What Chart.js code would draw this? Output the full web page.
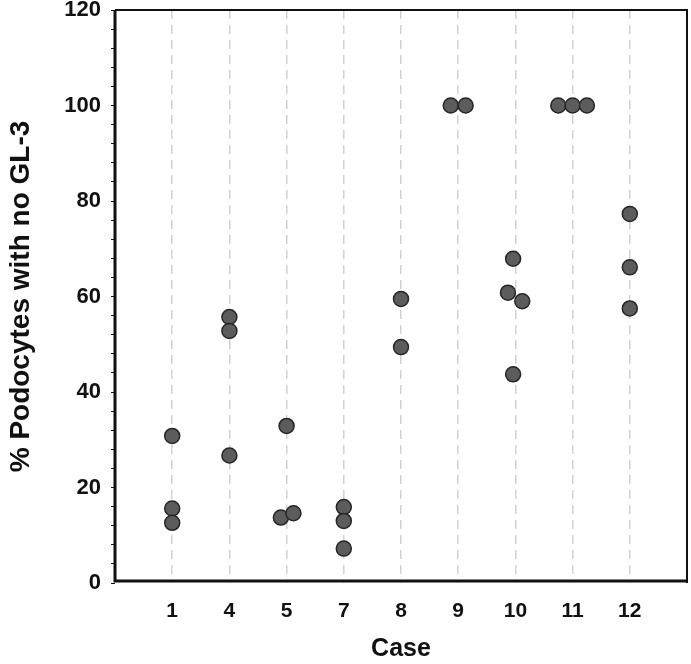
<!DOCTYPE html>
<html>
<head>
<meta charset="utf-8">
<script src="https://cdn.jsdelivr.net/npm/chart.js@4"></script>
<style>
	body { margin: 0; background: #fff; }
	#grafica { display: block; }
</style>
</head>
<body>
<canvas id="grafica" width="691" height="664"></canvas>
<script>
	const casos = ["1", "4", "5", "7", "8", "9", "10", "11", "12"];
	// % podocytes with no GL-3, one list per case
	const valores = [
		[30.8, 15.6, 12.6],
		[55.7, 52.8, 26.7],
		[32.9, 13.7, 14.6],
		[15.9, 13.0, 7.2],
		[59.5, 49.4],
		[100, 100],
		[67.9, 60.8, 59.0, 43.7],
		[100, 100, 100],
		[77.3, 66.1, 57.5],
	];
	// horizontal spread of overlapping dots (in case units)
	const desplazamiento = [
		[0, 0, 0],
		[0, 0, 0],
		[0, -0.1, 0.12],
		[0, 0, 0],
		[0, 0],
		[-0.13, 0.13],
		[-0.04, -0.13, 0.12, -0.04],
		[-0.25, 0, 0.25],
		[0, 0, 0],
	];
	const yTicks = [0, 20, 40, 60, 80, 100, 120];

	const puntos = [];
	valores.forEach((lista, i) => {
		lista.forEach((v, j) => {
			puntos.push({ x: i + 1 + desplazamiento[i][j], y: v });
		});
	});

	const marco = {
		id: "marco",
		beforeDatasetsDraw(chart) {
			const { ctx, chartArea: a } = chart;
			ctx.save();
			ctx.strokeStyle = "#111";
			ctx.lineWidth = 2;
			ctx.beginPath();
			ctx.moveTo(a.left, a.top);
			ctx.lineTo(a.right, a.top);
			ctx.lineTo(a.right, a.bottom);
			ctx.stroke();
			ctx.lineWidth = 3;
			ctx.beginPath();
			ctx.moveTo(a.left, a.top);
			ctx.lineTo(a.left, a.bottom - 2);
			ctx.lineTo(a.right, a.bottom - 2);
			ctx.stroke();
			ctx.restore();
		},
	};

	const fuente = "'Liberation Sans', Arial, sans-serif";

	new Chart(document.getElementById("grafica"), {
		type: "scatter",
		data: {
			datasets: [
				{
					data: puntos,
					backgroundColor: "#5c5c5c",
					borderColor: "#262626",
					borderWidth: 1.5,
					pointRadius: 7.5,
					pointHoverRadius: 7.5,
				},
			],
		},
		options: {
			responsive: false,
			animation: false,
			layout: { autoPadding: false, padding: { top: 10, right: 4, left: 0, bottom: 0 } },
			plugins: {
				legend: { display: false },
				tooltip: { enabled: false },
			},
			scales: {
				x: {
					type: "linear",
					min: 0,
					max: 10,
					afterBuildTicks: (scale) => {
						scale.ticks = casos.map((c, i) => ({ value: i + 1 }));
					},
					afterFit: (scale) => {
						scale.height = 81;
						scale.paddingLeft = 0;
						scale.paddingRight = 0;
					},
					ticks: {
						callback: (v) => casos[v - 1],
						color: "#111",
						font: { family: fuente, size: 21, weight: "bold" },
						padding: 16,
						maxRotation: 0,
						autoSkip: false,
					},
					grid: {
						color: "#d2d2d2",
						lineWidth: 1.5,
						drawTicks: false,
					},
					border: { display: false, dash: [9, 6] },
					title: {
						display: true,
						text: "Case",
						color: "#111",
						font: { family: fuente, size: 25, weight: "bold" },
						padding: { top: 20, bottom: 0 },
					},
				},
				y: {
					min: 0,
					max: 120,
					afterBuildTicks: (scale) => {
						const t = [];
						for (let v = 0; v <= 120; v += 4) t.push({ value: v });
						scale.ticks = t;
					},
					afterFit: (scale) => {
						scale.width = 115;
						scale.paddingTop = 0;
						scale.paddingBottom = 0;
					},
					ticks: {
						callback: (v) => (yTicks.includes(v) ? v : ""),
						color: "#111",
						font: { family: fuente, size: 22, weight: "bold" },
						padding: 10,
						autoSkip: false,
					},
					grid: {
						drawOnChartArea: false,
						color: "#111",
						tickLength: 4,
						lineWidth: 1,
					},
					border: { display: false },
					title: {
						display: true,
						text: "% Podocytes with no GL-3",
						color: "#111",
						font: { family: fuente, size: 28, weight: "bold" },
						padding: { bottom: 2 },
					},
				},
			},
		},
		plugins: [marco],
	});
</script>
</body>
</html>
